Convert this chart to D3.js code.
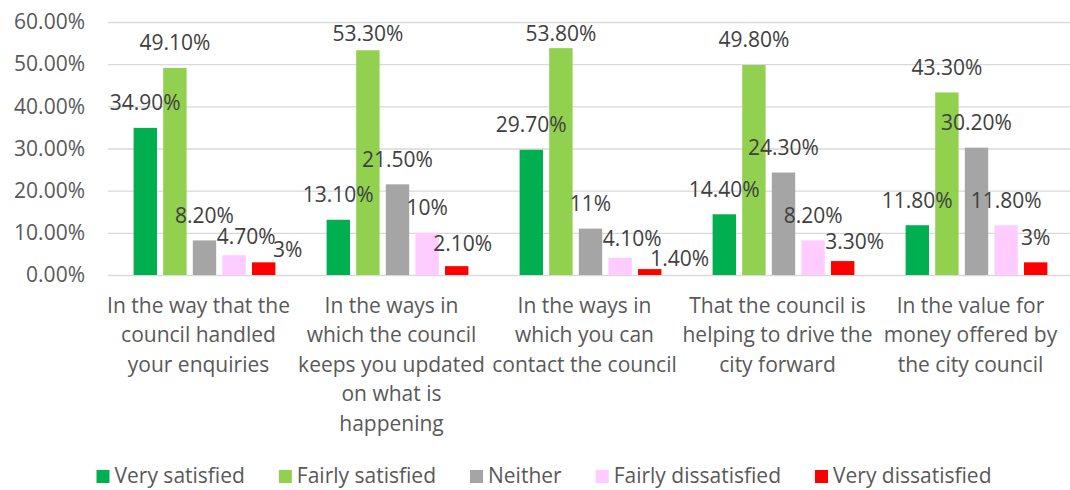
<!DOCTYPE html>
<html>
<head>
<meta charset="utf-8">
<script src="https://cdn.jsdelivr.net/npm/d3@7"></script>
<style>
  body { margin: 0; background: #ffffff; }
  svg { display: block; font-family: "Open Sans", sans-serif; }
</style>
</head>
<body>
<div class="vis-holder"></div>
<script>
var categories = [
	"In the way that the\ncouncil handled\nyour enquiries",
	"In the ways in\nwhich the council\nkeeps you updated\non what is\nhappening",
	"In the ways in\nwhich you can\ncontact the council",
	"That the council is\nhelping to drive the\ncity forward",
	"In the value for\nmoney offered by\nthe city council"
];
var seriesNames = ["Very satisfied", "Fairly satisfied", "Neither", "Fairly dissatisfied", "Very dissatisfied"];
var verySatisfied = [34.9, 13.1, 29.7, 14.4, 11.8];
var fairlySatisfied = [49.1, 53.3, 53.8, 49.8, 43.3];
var neither = [8.2, 21.5, 11, 24.3, 30.2];
var fairlyDissatisfied = [4.7, 10, 4.1, 8.2, 11.8];
var veryDissatisfied = [3, 2.1, 1.4, 3.3, 3];
var yTicks = [0, 10, 20, 30, 40, 50, 60];
var colors = ["#00B050", "#92D050", "#A5A5A5", "#FFCCFF", "#FF0000"];

var seriesValues = [verySatisfied, fairlySatisfied, neither, fairlyDissatisfied, veryDissatisfied];

var width = 1070;
var height = 490;
var margin = { top: 22, bottom: 215, left: 108, right: -3 };

var svg = d3.select("div.vis-holder")
			.append("svg")
			.attr("width", width)
			.attr("height", height)
			.style("background", "#ffffff");

var xScale = d3.scaleBand()
			   .domain(categories)
			   .range([margin.left, width - margin.right]);

var x1 = d3.scaleBand()
		   .domain(seriesNames)
		   .range([25.6, xScale.bandwidth() - 25.6])
		   .paddingInner(0.21);

var yScale = d3.scaleLinear()
			   .domain([0, 60])
			   .range([height - margin.bottom, margin.top]);

// gridlines + y labels
var yAxis = svg.append("g")
			   .attr("transform", `translate(${margin.left}, 0)`)
			   .call(d3.axisLeft(yScale)
					   .tickValues(yTicks)
					   .tickSize(-(width - margin.right - margin.left))
					   .tickPadding(23)
					   .tickFormat(d => d.toFixed(2) + "%"));
yAxis.select(".domain").remove();
yAxis.selectAll(".tick line").attr("stroke", "#D9D9D9").attr("stroke-width", 1.3);
yAxis.selectAll(".tick text")
	 .attr("fill", "#595959")
	 .style("font-size", "21px")
	 .style("font-family", "'Open Sans', sans-serif");

// bars
var bars = [];
categories.forEach(function(c, ci) {
	seriesNames.forEach(function(s, si) {
		bars.push({ cat: c, ci: ci, series: s, si: si, v: seriesValues[si][ci] });
	});
});

svg.append("g")
   .selectAll("rect")
   .data(bars)
   .enter()
   .append("rect")
   .attr("x", d => xScale(d.cat) + x1(d.series))
   .attr("y", d => yScale(d.v))
   .attr("width", x1.bandwidth())
   .attr("height", d => yScale(0) - yScale(d.v))
   .attr("fill", d => colors[d.si]);

// data labels, nudged right/down when they hit another label or a bar top
function fmt(v) {
	return (Number.isInteger(v) ? v : v.toFixed(2)) + "%";
}

var labelG = svg.append("g");
var placed = [];
bars.forEach(function(d) {
	var t = labelG.append("text")
				  .attr("text-anchor", "middle")
				  .attr("dy", "0.35em")
				  .attr("fill", "#404040")
				  .style("font-size", "21px")
				  .text(fmt(d.v));
	var w = t.node().getComputedTextLength() - 4;
	var h = 18;
	var cx = xScale(d.cat) + x1(d.series) + x1.bandwidth() / 2;
	var cy = Math.max(yScale(d.v) - 25, margin.top + 12);
	for (var k = 0; k < 20; k++) {
		var box = { x0: cx - w / 2, x1: cx + w / 2, y0: cy - h / 2, y1: cy + h / 2 };
		var hit = placed.some(p => box.x0 < p.x1 && box.x1 > p.x0 && box.y0 < p.y1 && box.y1 > p.y0);
		if (!hit) {
			hit = bars.some(function(b) {
				if (b === d) return false;
				var bx0 = xScale(b.cat) + x1(b.series);
				var bx1 = bx0 + x1.bandwidth();
				var top = yScale(b.v);
				return box.x0 < bx1 && box.x1 > bx0 && top >= box.y0 && top <= box.y1;
			});
		}
		if (!hit) break;
		cx += 6;
		cy += 3;
	}
	placed.push({ x0: cx - w / 2, x1: cx + w / 2, y0: cy - h / 2, y1: cy + h / 2 });
	t.attr("x", cx).attr("y", cy);
});

// category labels
var catG = svg.append("g")
			  .selectAll("text")
			  .data(categories)
			  .enter()
			  .append("text")
			  .attr("text-anchor", "middle")
			  .attr("fill", "#595959")
			  .style("font-size", "21px")
			  .attr("transform", d => `translate(${xScale(d) + xScale.bandwidth() / 2 - 6}, 313)`);
catG.selectAll("tspan")
	.data(d => d.split("\n"))
	.enter()
	.append("tspan")
	.attr("x", 0)
	.attr("y", (d, i) => i * 29.4)
	.text(d => d);

// legend
var legend = svg.append("g");
var items = legend.selectAll("g")
				  .data(seriesNames)
				  .enter()
				  .append("g");
items.append("rect")
	 .attr("width", 13)
	 .attr("height", 13)
	 .attr("y", -13)
	 .attr("fill", (d, i) => colors[i]);
items.append("text")
	 .attr("x", 18)
	 .attr("fill", "#595959")
	 .style("font-size", "21px")
	 .text(d => d);

var pos = 0;
items.each(function() {
	var g = d3.select(this);
	g.attr("transform", `translate(${pos}, 0)`);
	pos += 18 + g.select("text").node().getComputedTextLength() + 34;
});
pos -= 34;
legend.attr("transform", `translate(${544 - pos / 2}, 483)`);
</script>
</body>
</html>
